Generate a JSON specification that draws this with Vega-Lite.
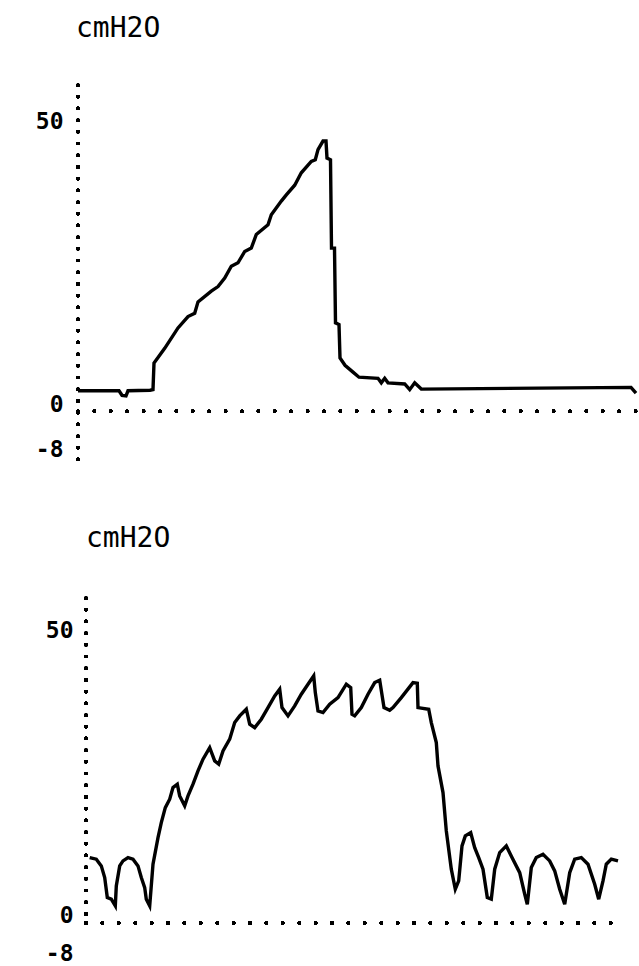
{
  "$schema": "https://vega.github.io/schema/vega-lite/v6.json",
  "background": "white",
  "padding": {"left": 35, "top": 15, "right": 0, "bottom": 0},
  "spacing": 62,
  "config": {
    "view": {"stroke": null},
    "font": "DejaVu Sans Mono",
    "title": {"font": "DejaVu Sans Mono", "fontSize": 28, "fontWeight": "normal", "anchor": "start", "frame": "group", "color": "black", "baseline": "alphabetic", "offset": 40},
    "axis": {"domain": false, "ticks": false, "grid": false, "title": null, "labelFont": "DejaVu Sans Mono", "labelFontSize": 23, "labelFontWeight": "bold", "labelColor": "black", "labelBaseline": "alphabetic"}
  },
  "datasets": {
    "p1": [
      {"t": 0, "p": 3.6}, {"t": 41, "p": 3.6}, {"t": 44, "p": 2.8}, {"t": 48, "p": 2.7}, {"t": 50, "p": 3.6}, {"t": 72, "p": 3.7}, {"t": 75, "p": 3.8}, {"t": 76, "p": 8.5},
      {"t": 86.7, "p": 11.1}, {"t": 100, "p": 14.7}, {"t": 110, "p": 16.7}, {"t": 116.7, "p": 17.3}, {"t": 120, "p": 19.3}, {"t": 133.3, "p": 21.2}, {"t": 140, "p": 22.0},
      {"t": 146.7, "p": 23.5}, {"t": 153.3, "p": 25.6}, {"t": 160, "p": 26.2}, {"t": 166.7, "p": 28.2}, {"t": 173.3, "p": 28.8}, {"t": 178.3, "p": 31.2}, {"t": 190, "p": 32.9},
      {"t": 193.3, "p": 34.7}, {"t": 203.3, "p": 37.1}, {"t": 208.3, "p": 38.2}, {"t": 216.7, "p": 39.9}, {"t": 223.3, "p": 42.1}, {"t": 233.3, "p": 44.1}, {"t": 237.3, "p": 44.4},
      {"t": 240, "p": 46.2}, {"t": 245, "p": 47.7}, {"t": 248, "p": 47.7}, {"t": 249, "p": 44.7}, {"t": 252.5, "p": 44.4}, {"t": 253.5, "p": 28.8}, {"t": 256.5, "p": 28.8},
      {"t": 257.5, "p": 15.6}, {"t": 261, "p": 15.3}, {"t": 262, "p": 9.4}, {"t": 267, "p": 8.1}, {"t": 275, "p": 6.9}, {"t": 281, "p": 6.0}, {"t": 300, "p": 5.8},
      {"t": 303.3, "p": 5.0}, {"t": 306.7, "p": 5.8}, {"t": 310, "p": 5.0}, {"t": 326.7, "p": 4.8}, {"t": 331.7, "p": 3.8}, {"t": 336.7, "p": 5.0}, {"t": 343.3, "p": 3.9},
      {"t": 553, "p": 4.2}, {"t": 558, "p": 3.2}
    ],
    "p2": [
      {"t": 11.7, "p": 11.46}, {"t": 18.3, "p": 11.18}, {"t": 23.3, "p": 10.0}, {"t": 26.7, "p": 7.95}, {"t": 29.3, "p": 4.44}, {"t": 33.3, "p": 4.16}, {"t": 37.3, "p": 2.98},
      {"t": 38.3, "p": 6.49}, {"t": 41.7, "p": 10.0}, {"t": 45, "p": 10.88}, {"t": 50, "p": 11.46}, {"t": 55, "p": 11.18}, {"t": 60, "p": 10.0}, {"t": 63.3, "p": 7.95},
      {"t": 66.7, "p": 6.19}, {"t": 68.3, "p": 4.16}, {"t": 71.7, "p": 2.98}, {"t": 75, "p": 10.3}, {"t": 80, "p": 14.96}, {"t": 83.3, "p": 17.6}, {"t": 87.3, "p": 20.23},
      {"t": 91.7, "p": 21.7}, {"t": 95, "p": 23.74}, {"t": 99.3, "p": 24.33}, {"t": 101.7, "p": 22.28}, {"t": 106.7, "p": 20.53}, {"t": 110, "p": 22.28}, {"t": 115, "p": 24.33},
      {"t": 120, "p": 26.67}, {"t": 125, "p": 28.72}, {"t": 131.7, "p": 30.75}, {"t": 136.7, "p": 28.42}, {"t": 140.7, "p": 27.84}, {"t": 145, "p": 30.18}, {"t": 151.7, "p": 32.23},
      {"t": 156.7, "p": 35.14}, {"t": 161.7, "p": 36.32}, {"t": 168.3, "p": 37.49}, {"t": 171.7, "p": 34.86}, {"t": 176.7, "p": 34.26}, {"t": 183.3, "p": 35.74}, {"t": 190, "p": 37.77},
      {"t": 196.7, "p": 39.82}, {"t": 201.7, "p": 41.0}, {"t": 204, "p": 37.77}, {"t": 210, "p": 36.32}, {"t": 216.7, "p": 38.07}, {"t": 223.3, "p": 40.12}, {"t": 230, "p": 41.88},
      {"t": 235.7, "p": 43.33}, {"t": 237.3, "p": 40.4}, {"t": 240, "p": 37.19}, {"t": 245, "p": 36.89}, {"t": 251.7, "p": 38.37}, {"t": 260, "p": 39.53}, {"t": 268.3, "p": 41.88},
      {"t": 272.7, "p": 41.28}, {"t": 274, "p": 36.61}, {"t": 276.7, "p": 36.32}, {"t": 283.3, "p": 37.77}, {"t": 290, "p": 40.12}, {"t": 296.7, "p": 42.16}, {"t": 301.7, "p": 42.58},
      {"t": 306, "p": 37.77}, {"t": 311.7, "p": 37.32}, {"t": 315, "p": 37.77}, {"t": 323.3, "p": 39.53}, {"t": 335, "p": 42.16}, {"t": 339.3, "p": 42.05}, {"t": 340, "p": 37.77},
      {"t": 350.7, "p": 37.49}, {"t": 353.3, "p": 35.14}, {"t": 358.3, "p": 31.63}, {"t": 360, "p": 27.54}, {"t": 365, "p": 22.86}, {"t": 368.3, "p": 16.14}, {"t": 373.3, "p": 9.42},
      {"t": 377.3, "p": 5.91}, {"t": 380.7, "p": 7.37}, {"t": 384, "p": 13.51}, {"t": 387.3, "p": 15.26}, {"t": 392.7, "p": 15.84}, {"t": 396.7, "p": 13.21}, {"t": 400.7, "p": 11.46},
      {"t": 405, "p": 9.42}, {"t": 409.3, "p": 4.44}, {"t": 413.3, "p": 4.16}, {"t": 416.7, "p": 9.42}, {"t": 421.7, "p": 12.33}, {"t": 428.3, "p": 13.51}, {"t": 434, "p": 11.46},
      {"t": 441.7, "p": 8.82}, {"t": 446.7, "p": 5.04}, {"t": 449.3, "p": 3.28}, {"t": 453.3, "p": 9.7}, {"t": 458.3, "p": 11.46}, {"t": 465, "p": 12.05}, {"t": 471.7, "p": 10.88},
      {"t": 476.7, "p": 9.12}, {"t": 481.7, "p": 5.91}, {"t": 486.7, "p": 3.28}, {"t": 491.7, "p": 8.82}, {"t": 496.7, "p": 11.18}, {"t": 503.3, "p": 11.46}, {"t": 510, "p": 10.3},
      {"t": 516.7, "p": 6.79}, {"t": 520.7, "p": 4.16}, {"t": 525, "p": 7.37}, {"t": 528.3, "p": 10.3}, {"t": 533.3, "p": 11.18}, {"t": 540, "p": 10.88}
    ]
  },
  "vconcat": [
    {
      "width": 559,
      "height": 376,
      "title": {"text": "cmH2O", "dx": -2},
      "data": {"name": "p1"},
      "layer": [
        {
          "mark": {"type": "rule", "color": "black", "strokeWidth": 3.2, "strokeCap": "round", "strokeDash": [0, 11.7]},
          "encoding": {
            "x": {"datum": 0, "type": "quantitative", "scale": {"domain": [0, 559]}, "axis": null},
            "y": {"datum": 57.6, "type": "quantitative", "scale": {"domain": [-8.8, 57.6]}},
            "y2": {"datum": -8.8}
          }
        },
        {
          "mark": {"type": "rule", "color": "black", "strokeWidth": 3.2, "strokeCap": "round", "strokeDash": [0, 16.4]},
          "encoding": {
            "x": {"datum": 0, "type": "quantitative", "scale": {"domain": [0, 559]}, "axis": null},
            "x2": {"datum": 559},
            "y": {"datum": 0, "type": "quantitative", "scale": {"domain": [-8.8, 57.6]}}
          }
        },
        {
          "mark": {"type": "line", "color": "black", "strokeWidth": 3.4, "strokeJoin": "miter"},
          "encoding": {
            "x": {"field": "t", "type": "quantitative", "scale": {"domain": [0, 559]}, "axis": null},
            "y": {"field": "p", "type": "quantitative", "scale": {"domain": [-8.8, 57.6]},
                  "axis": {"values": [50, 0, -8], "labelPadding": 15, "labelExpr": "datum.value < 0 ? '-' + abs(datum.value) : datum.label"}}
          }
        }
      ]
    },
    {
      "width": 559,
      "height": 370.5,
      "title": {"text": "cmH2O", "dx": 8, "offset": 43},
      "data": {"name": "p2"},
      "layer": [
        {
          "mark": {"type": "rule", "color": "black", "strokeWidth": 3.2, "strokeCap": "round", "strokeDash": [0, 11.7]},
          "encoding": {
            "x": {"datum": 8, "type": "quantitative", "scale": {"domain": [0, 559]}, "axis": null},
            "y": {"datum": 57, "type": "quantitative", "scale": {"domain": [-8, 57]}},
            "y2": {"datum": 0}
          }
        },
        {
          "mark": {"type": "rule", "color": "black", "strokeWidth": 3.2, "strokeCap": "round", "strokeDash": [0, 16.4]},
          "encoding": {
            "x": {"datum": 8, "type": "quantitative", "scale": {"domain": [0, 559]}, "axis": null},
            "x2": {"datum": 545},
            "y": {"datum": 0, "type": "quantitative", "scale": {"domain": [-8, 57]}}
          }
        },
        {
          "mark": {"type": "line", "color": "black", "strokeWidth": 3.4, "strokeJoin": "miter"},
          "encoding": {
            "x": {"field": "t", "type": "quantitative", "scale": {"domain": [0, 559]}, "axis": null},
            "y": {"field": "p", "type": "quantitative", "scale": {"domain": [-8, 57]},
                  "axis": {"values": [50, 0, -8], "labelPadding": 13, "offset": -8,
                           "labelOffset": {"condition": {"test": "datum.value < 0", "value": -8}, "value": 0},
                           "labelExpr": "datum.value < 0 ? '-' + abs(datum.value) : datum.label"}}
          }
        }
      ]
    }
  ]
}
